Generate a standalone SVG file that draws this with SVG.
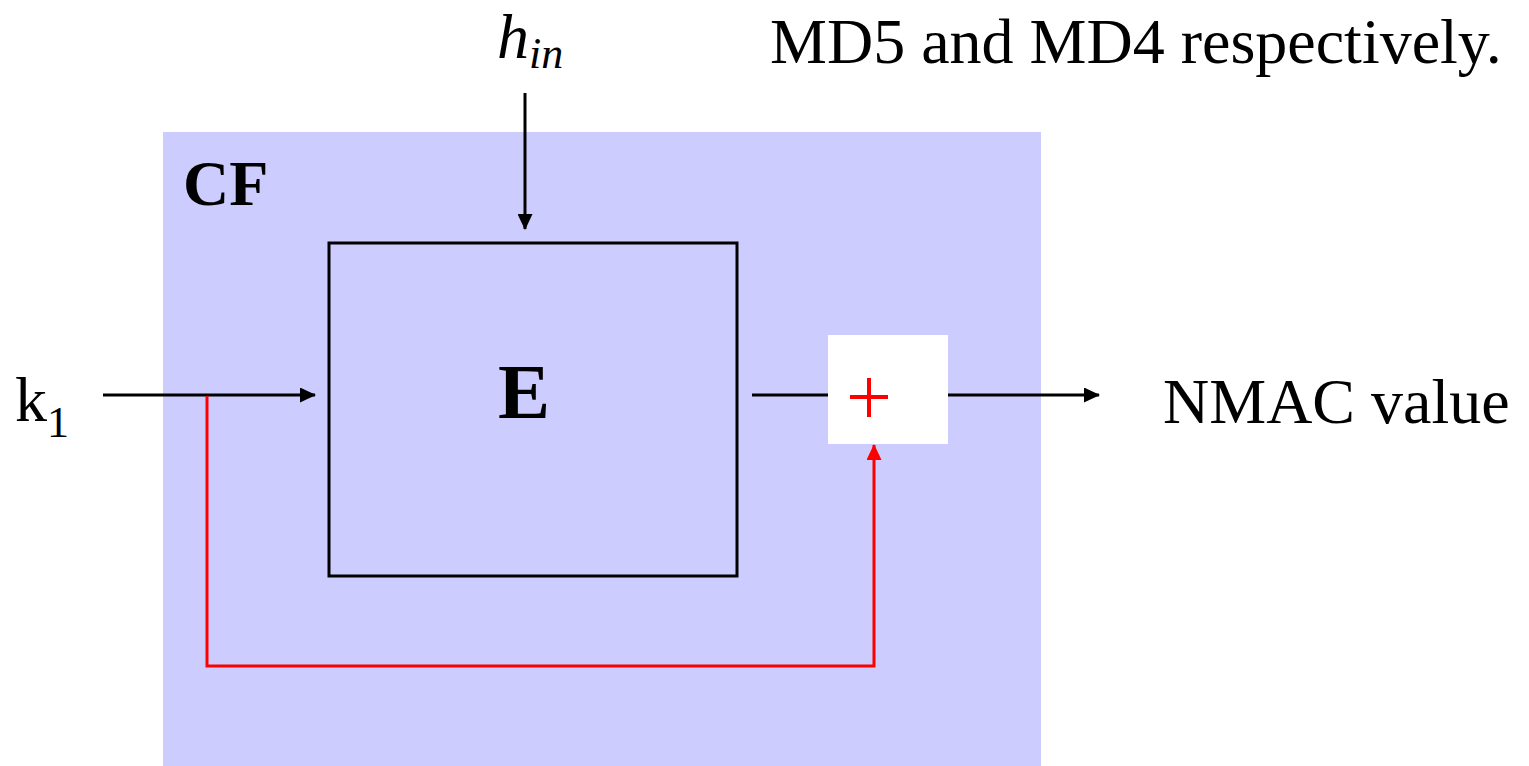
<svg xmlns="http://www.w3.org/2000/svg" width="1529" height="766" viewBox="0 0 1529 766">
<style>
.t{font-family:"Liberation Serif",serif;fill:#000}
.blk{stroke:#000;stroke-width:3;fill:none}
.red{stroke:#FF0000;stroke-width:3;fill:none}
</style>
<defs>
<marker id="ab" markerWidth="16" markerHeight="15" refX="15" refY="7.5" orient="auto" markerUnits="userSpaceOnUse" viewBox="0 0 16 15"><path d="M0,0 L16,7.5 L0,15 Z" fill="#000"/></marker>
<marker id="ar" markerWidth="16" markerHeight="15" refX="15" refY="7.5" orient="auto" markerUnits="userSpaceOnUse" viewBox="0 0 16 15"><path d="M0,0 L16,7.5 L0,15 Z" fill="#FF0000"/></marker>
</defs>
<rect width="1529" height="766" fill="#fff"/>
<g id="cf">
<rect x="163" y="132" width="878" height="634" fill="#CCCCFF"/>
<text class="t" x="183" y="205" font-size="64" font-weight="bold">CF</text>
</g>
<g id="e">
<rect x="329" y="243" width="408" height="333" class="blk"/>
<text class="t" x="524" y="418" font-size="78" font-weight="bold" text-anchor="middle">E</text>
</g>
<g id="sum">
<rect x="828" y="335" width="120" height="109" fill="#fff"/>
<path d="M850,397 H888 M869,378 V417" stroke="#FF0000" stroke-width="4"/>
</g>
<g id="labels">
<text class="t" x="497" y="58" font-size="64" font-style="italic">h<tspan font-size="44" dy="10">in</tspan></text>
<text class="t" x="770" y="63" font-size="64">MD5 and MD4 respectively.</text>
<text class="t" x="15" y="421" font-size="64">k<tspan font-size="44" dy="16">1</tspan></text>
<text class="t" x="1163" y="423" font-size="64">NMAC value</text>
</g>
<g id="connectors">
<line x1="525" y1="93" x2="525" y2="229" class="blk" marker-end="url(#ab)"/>
<line x1="103" y1="395" x2="315" y2="395" class="blk" marker-end="url(#ab)"/>
<line x1="752" y1="395" x2="828" y2="395" class="blk"/>
<line x1="948" y1="395" x2="1099" y2="395" class="blk" marker-end="url(#ab)"/>
<polyline points="207,396 207,666 874,666 874,445" class="red" marker-end="url(#ar)"/>
</g>
</svg>
